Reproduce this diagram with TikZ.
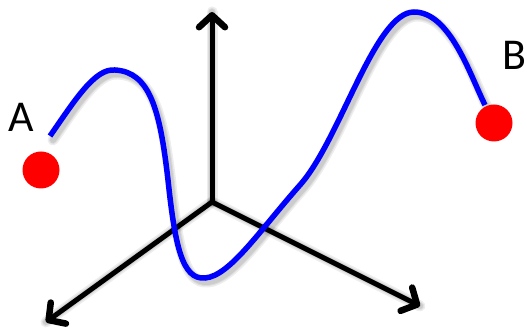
\documentclass[tikz,border=0pt]{standalone}
\usepackage{fontspec}
\setmainfont{Carlito}
\usetikzlibrary{arrows.meta}
\tikzset{
  axis/.style={line width=5pt, line cap=round, line join=round, -{Straight Barb[length=12pt,width=26pt,line width=6.5pt,round]}},
  curvestyle/.style={line width=5.5pt, draw=blue, line cap=butt},
  shadowline/.style={draw=black, line width=#1, opacity=0.07, line cap=round, line join=round},
  dot/.style={circle, fill=red, inner sep=0pt, minimum width=35pt, minimum height=37pt},
  lbl/.style={font=\fontsize{44pt}{44pt}\selectfont, inner sep=0pt}
}
\begin{document}
\begin{tikzpicture}[x=1pt,y=-1pt]
\useasboundingbox (0,0) rectangle (527,328);
\coordinate (O) at (212,202);
\coordinate (Up) at (212,12);
\coordinate (L) at (46,322);
\coordinate (R) at (420,306);
% shadows
\foreach \w in {11pt,8pt,6pt}{
  \begin{scope}[shift={(3,4)}]
  \draw[shadowline=\w] (O) -- (Up);
  \draw[shadowline=\w] (O) -- (L);
  \draw[shadowline=\w] (O) -- (R);
  \draw[shadowline=\w] (50,136) .. controls (75,100) and (95,68) .. (115,70)
     .. controls (150,72) and (160,110) .. (168,180)
     .. controls (175,245) and (182,280) .. (205,278)
     .. controls (230,276) and (260,230) .. (300,185)
     .. controls (340,140) and (375,12) .. (414,12)
     .. controls (450,12) and (470,75) .. (485,105);
  \end{scope}
}
% axes
\draw[axis] (O) -- (Up);
\draw[axis] (O) -- (L);
\draw[axis] (O) -- (R);
% curve
\draw[curvestyle] (50,136) .. controls (75,100) and (95,68) .. (115,70)
   .. controls (150,72) and (160,110) .. (168,180)
   .. controls (175,245) and (182,280) .. (205,278)
   .. controls (230,276) and (260,230) .. (300,185)
   .. controls (340,140) and (375,12) .. (414,12)
   .. controls (450,12) and (470,75) .. (485,105);
% dots
\node[dot] (dA) at (41,170) {};
\node[dot] (dB) at (494,123) {};
% labels
\node[lbl] (A) at (21,117) {A};
\node[lbl] (B) at (514,55) {B};
\end{tikzpicture}
\end{document}
